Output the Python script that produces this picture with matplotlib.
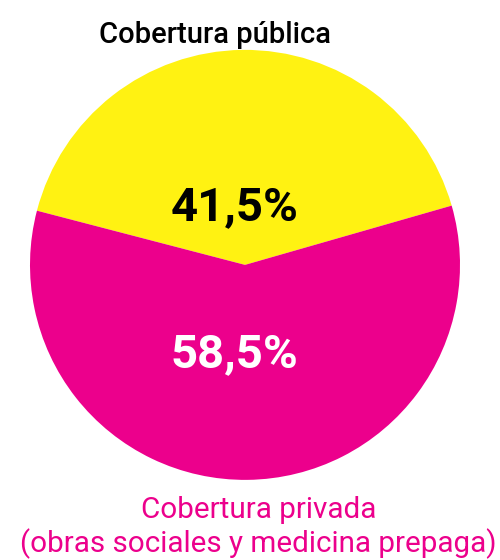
import matplotlib
matplotlib.use("Agg")
import matplotlib.pyplot as plt

fam = ['Roboto', 'DejaVu Sans']

labels = ["Cobertura pública", "Cobertura privada\n(obras sociales y medicina prepaga)"]
values = [41.5, 58.5]
pct_labels = ["41,5%", "58,5%"]
colors = ["#FFF212", "#EC008C"]
pct_colors = ["black", "white"]

fig = plt.figure(figsize=(5, 5.6), dpi=100)
ax = fig.add_axes([0.06, 0.143, 0.86, 0.768])
wedges, _ = ax.pie(values, colors=colors, startangle=16, counterclock=True,
                   wedgeprops=dict(linewidth=0))
ax.set_aspect('equal')
ax.set_xlim(-1, 1)
ax.set_ylim(-1, 1)
ax.axis('off')

ax.text(-0.05, 0.27, pct_labels[0], ha='center', va='center', fontsize=34,
        fontweight='bold', color=pct_colors[0], family=fam)
ax.text(-0.05, -0.415, pct_labels[1], ha='center', va='center', fontsize=34,
        fontweight='bold', color=pct_colors[1], family=fam)

fig.text(0.43, 0.938, labels[0], ha='center', va='center', fontsize=21,
         fontweight='medium', color='black', family=fam)
fig.text(0.517, 0.058, labels[1], ha='center', va='center', fontsize=21.3,
         color='#EC008C', family=fam, linespacing=1.22)

fig.savefig("out.png", dpi=100)
